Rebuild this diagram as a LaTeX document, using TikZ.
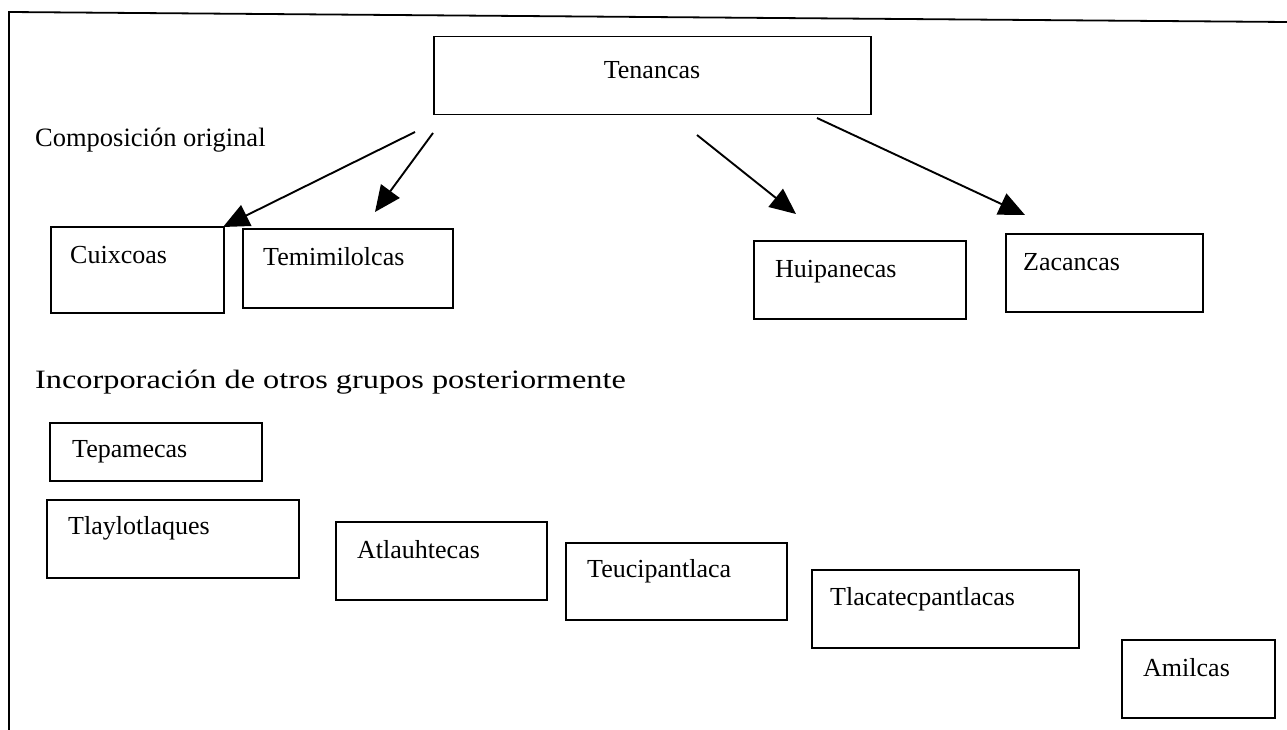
\documentclass[tikz,border=0pt]{standalone}
\usepackage{fontspec}
\setmainfont{Liberation Serif}
\newfontfamily\widefont[FakeStretch=1.22]{Liberation Serif}
\usetikzlibrary{arrows.meta}
\begin{document}
\begin{tikzpicture}[x=1pt,y=-1pt,
  box/.style={draw, line width=1.5pt, anchor=north west, inner sep=0pt},
  lbl/.style={anchor=mid west, inner sep=0pt, font=\fontsize{26}{31}\selectfont},
  link/.style={line width=1.9pt, -{Triangle[length=26pt,width=23pt]}}]
\useasboundingbox (0,0) rectangle (1287,730);
% outer frame (top and left sides only)
\coordinate (ftl) at (9,12);
\coordinate (ftr) at (1287,22);
\coordinate (fbl) at (9,730);
\draw[line width=1.8pt] (ftr) -- (ftl) -- (fbl);

% top box
\node[box, minimum width=437pt, minimum height=78pt] (ten) at (433,36) {};
\node[anchor=mid, inner sep=0pt, font=\fontsize{26}{31}\selectfont] (tent) at (652,76) {Tenancas};

% section titles
\node[lbl, font=\fontsize{26.5}{31}\selectfont] (comp) at (35,144) {Composición original};
\node[lbl, font=\widefont\fontsize{26.5}{31}\selectfont] (inc) at (35,386) {Incorporación de otros grupos posteriormente};

% original groups
\node[box, minimum width=173pt, minimum height=86pt] (cui) at (50,226) {};
\node[lbl] (cuit) at (70,261) {Cuixcoas};
\node[box, minimum width=210pt, minimum height=79pt] (tem) at (242,228) {};
\node[lbl] (temt) at (263,263) {Temimilolcas};
\node[box, minimum width=212pt, minimum height=78pt] (hui) at (753,240) {};
\node[lbl] (huit) at (775,275) {Huipanecas};
\node[box, minimum width=197pt, minimum height=78pt] (zac) at (1005,233) {};
\node[lbl] (zact) at (1023,268) {Zacancas};

% later groups
\node[box, minimum width=212pt, minimum height=58pt] (tep) at (49,422) {};
\node[lbl] (tept) at (72,455) {Tepamecas};
\node[box, minimum width=252pt, minimum height=78pt] (tla) at (46,499) {};
\node[lbl] (tlat) at (68,532) {Tlaylotlaques};
\node[box, minimum width=211pt, minimum height=78pt] (atl) at (335,521) {};
\node[lbl] (atlt) at (357,556) {Atlauhtecas};
\node[box, minimum width=221pt, minimum height=77pt] (teu) at (565,542) {};
\node[lbl] (teut) at (587,575) {Teucipantlaca};
\node[box, minimum width=267pt, minimum height=78pt] (tlc) at (811,569) {};
\node[lbl] (tlct) at (830,603) {Tlacatecpantlacas};
\node[box, minimum width=153pt, minimum height=78pt] (ami) at (1121,639) {};
\node[lbl] (amit) at (1143,674) {Amilcas};

% arrows from Tenancas
\coordinate (s1) at (415,132);
\coordinate (e1) at (223,227);
\coordinate (s2) at (433,133);
\coordinate (e2) at (375,212);
\coordinate (s3) at (697,135);
\coordinate (e3) at (796,214);
\coordinate (s4) at (817,118);
\coordinate (e4) at (1025,215);
\draw[link] (s1) -- (e1);
\draw[link] (s2) -- (e2);
\draw[link] (s3) -- (e3);
\draw[link] (s4) -- (e4);
\end{tikzpicture}
\end{document}
